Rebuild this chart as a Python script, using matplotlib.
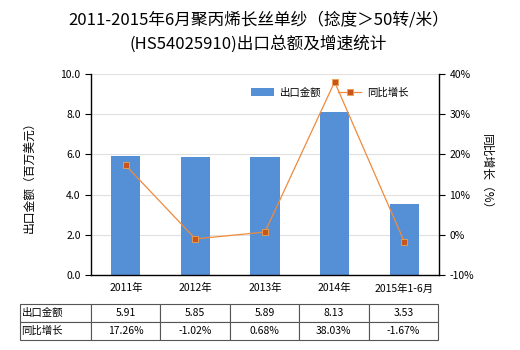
import matplotlib
matplotlib.use("Agg")
import matplotlib.pyplot as plt
import numpy as np

plt.rcParams['font.family'] = ['Noto Sans CJK SC', 'DejaVu Sans']

categories = ["2011年", "2012年", "2013年", "2014年", "2015年1-6月"]
export_value = [5.91, 5.85, 5.89, 8.13, 3.53]
growth = [17.26, -1.02, 0.68, 38.03, -1.67]
value_labels = ["5.91", "5.85", "5.89", "8.13", "3.53"]
growth_labels = ["17.26%", "-1.02%", "0.68%", "38.03%", "-1.67%"]

fig = plt.figure(figsize=(5.2, 3.5), dpi=100)
ax = fig.add_axes([91/520, 1-275/350, 348/520, 201/350])
x = np.arange(len(categories))
bar_color = "#5590D6"
ax.bar(x, export_value, width=0.42, color=bar_color, label="出口金额", zorder=2)
ax.set_xlim(-0.5, len(categories)-0.5)
ax.set_ylim(0, 10)
ax.set_yticks(np.arange(0, 10.1, 2))
ax.set_yticklabels([f"{v:.1f}" for v in np.arange(0, 10.1, 2)], fontsize=7.5)
ax.set_xticks(x)
ax.set_xticklabels(categories, fontsize=7.5)
ax.tick_params(axis='x', length=0, pad=6)
ax.tick_params(axis='y', length=4, width=0.8)
ax.grid(axis='y', color="#E0E0E0", linewidth=0.8, zorder=0)
for s in ['top', 'right']:
    ax.spines[s].set_visible(False)
ax.spines['left'].set_linewidth(1)
ax.spines['bottom'].set_linewidth(1)
ax.set_ylabel("出口金额（百万美元）", fontsize=8.5, labelpad=18)

ax2 = ax.twinx()
ax2.plot(x, growth, color="#F08A3C", linewidth=0.9, marker='s', markersize=4,
         markerfacecolor="#C8551A", markeredgecolor="#F0A050", markeredgewidth=0.6,
         label="同比增长", zorder=3)
ax2.set_ylim(-10, 40)
ax2.set_yticks(np.arange(-10, 41, 10))
ax2.set_yticklabels([f"{v}%" for v in range(-10, 41, 10)], fontsize=7.5)
ax2.tick_params(axis='y', length=4, width=0.8)
for s in ['top', 'left', 'bottom']:
    ax2.spines[s].set_visible(False)
ax2.spines['right'].set_linewidth(1)
ax2.set_ylabel("同比增长（%）", fontsize=8.5, rotation=270, labelpad=14)

h1, l1 = ax.get_legend_handles_labels()
h2, l2 = ax2.get_legend_handles_labels()
ax2.legend(h1 + h2, l1 + l2, loc='upper right', bbox_to_anchor=(0.94, 0.98), ncol=2,
           frameon=False, fontsize=7.5, handlelength=2.2, columnspacing=1.6,
           handletextpad=0.6)

fig.text(0.497, 0.942, "2011-2015年6月聚丙烯长丝单纱（捻度＞50转/米）", ha='center', va='center', fontsize=12)
fig.text(0.497, 0.874, "(HS54025910)出口总额及增速统计", ha='center', va='center', fontsize=12)

cell_text = [["出口金额"] + value_labels, ["同比增长"] + growth_labels]
tbl = ax.table(cellText=cell_text, cellLoc='center',
               bbox=[(20-91)/348, (275-340)/201, (438-20)/348, 36/201],
               colWidths=[71/418] + [69.4/418]*5)
tbl.auto_set_font_size(False)
tbl.set_fontsize(7.5)
for (r, c), cell in tbl.get_celld().items():
    cell.set_edgecolor("#555555")
    cell.set_linewidth(0.8)
    if c == 0:
        cell.get_text().set_ha('left')
        cell.PAD = 0.02

fig.savefig("out.png", dpi=100)
